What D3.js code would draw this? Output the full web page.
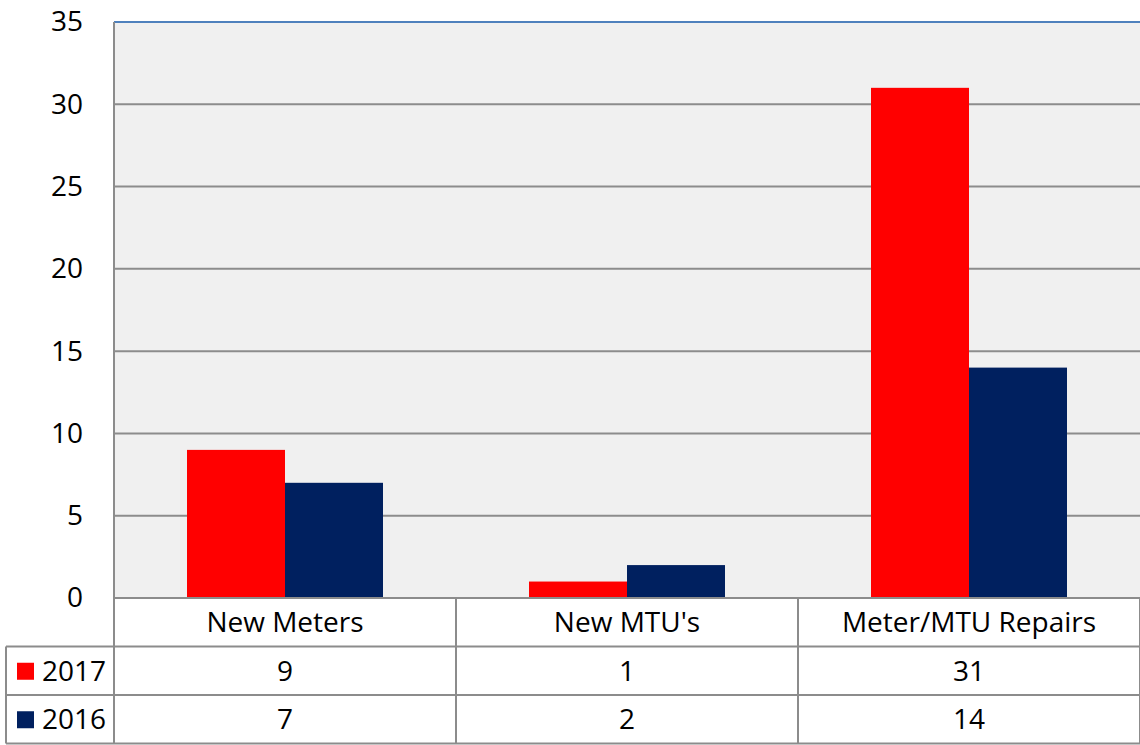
<!DOCTYPE html>
<html>
<head>
<meta charset="utf-8">
<script src="https://d3js.org/d3.v7.min.js"></script>
<style>
  body { margin: 0; background: #fff; }
  text { font-family: "Open Sans", "Liberation Sans", sans-serif; fill: #000; }
</style>
</head>
<body>
<div id="chart"></div>
<script>
// data
var categories = ["New Meters", "New MTU's", "Meter/MTU Repairs"];
var seriesNames = ["2017", "2016"];
var values2017 = [9, 1, 31];
var values2016 = [7, 2, 14];
var seriesColors = ["#ff0000", "#00205f"];
var yTicks = [0, 5, 10, 15, 20, 25, 30, 35];

var W = 1140, H = 745;
var plot = {left: 114, right: 1140, top: 22, bottom: 598};
var rowH = 48.5;
var tableLeft = 6;
var gridColor = "#8c8c8c";
var fontSize = "28px";

var svg = d3.select("#chart").append("svg")
  .attr("width", W).attr("height", H);

// plot background
svg.append("rect")
  .attr("x", plot.left).attr("y", plot.top)
  .attr("width", plot.right - plot.left).attr("height", plot.bottom - plot.top)
  .style("fill", "#f0f0f0");

var x0 = d3.scaleBand().domain(categories).range([plot.left, plot.right]).padding(0);
var x1 = d3.scaleBand().domain(seriesNames).range([0, x0.bandwidth()])
  .paddingInner(0).paddingOuter(0.745);
var y = d3.scaleLinear().domain([0, 35]).range([plot.bottom, plot.top]);

// gridlines
svg.append("g").selectAll("line")
  .data(yTicks.filter(function(d){ return d > 0 && d < 35; }))
  .enter().append("line")
    .attr("x1", plot.left).attr("x2", plot.right)
    .attr("y1", function(d){ return y(d); }).attr("y2", function(d){ return y(d); })
    .style("stroke", gridColor).style("stroke-width", 2);

// top line (blue)
svg.append("line")
  .attr("x1", plot.left).attr("x2", plot.right)
  .attr("y1", y(35)).attr("y2", y(35))
  .style("stroke", "#4f81bd").style("stroke-width", 2);

// bars
var series = [values2017, values2016];
var bars = [];
categories.forEach(function(c, i) {
  seriesNames.forEach(function(s, j) {
    bars.push({cat: c, name: s, value: series[j][i], color: seriesColors[j]});
  });
});
svg.append("g").selectAll("rect")
  .data(bars).enter().append("rect")
    .attr("x", function(d){ return x0(d.cat) + x1(d.name); })
    .attr("y", function(d){ return y(d.value); })
    .attr("width", x1.bandwidth())
    .attr("height", function(d){ return y(0) - y(d.value); })
    .style("fill", function(d){ return d.color; });

// y axis labels
var yAxis = d3.axisLeft(y).tickValues(yTicks).tickSize(0).tickPadding(31);
var gy = svg.append("g").attr("transform", "translate(" + plot.left + ",0)").call(yAxis);
gy.select(".domain").remove();
gy.selectAll("text").style("font-size", fontSize)
  .style("font-family", "'Open Sans', 'Liberation Sans', sans-serif").style("fill", "#000");

// data table
var t = svg.append("g");
var rowTops = [plot.bottom, plot.bottom + rowH, plot.bottom + 2 * rowH];
var tableBottom = plot.bottom + 3 * rowH;

// horizontal lines
t.append("line").attr("x1", plot.left).attr("x2", plot.right)
  .attr("y1", rowTops[0]).attr("y2", rowTops[0]);
[rowTops[1], rowTops[2], tableBottom].forEach(function(yy) {
  t.append("line").attr("x1", tableLeft).attr("x2", plot.right)
    .attr("y1", yy).attr("y2", yy);
});
// vertical lines
t.append("line").attr("x1", plot.left).attr("x2", plot.left)
  .attr("y1", plot.top).attr("y2", tableBottom);
t.append("line").attr("x1", tableLeft).attr("x2", tableLeft)
  .attr("y1", rowTops[1]).attr("y2", tableBottom);
categories.forEach(function(c) {
  var xx = x0(c) + x0.bandwidth();
  t.append("line").attr("x1", xx).attr("x2", xx)
    .attr("y1", rowTops[0]).attr("y2", tableBottom);
});
t.selectAll("line").style("stroke", gridColor).style("stroke-width", 2);

// category header
t.selectAll(".cat").data(categories).enter().append("text")
  .attr("x", function(d){ return x0(d) + x0.bandwidth() / 2; })
  .attr("y", rowTops[0] + rowH / 2)
  .attr("dy", "0.35em")
  .attr("text-anchor", "middle")
  .style("font-size", fontSize)
  .text(function(d){ return d; });

// series rows
series.forEach(function(vals, j) {
  var ry = rowTops[j + 1] + rowH / 2;
  t.append("rect")
    .attr("x", 17).attr("y", ry - 8)
    .attr("width", 17).attr("height", 17)
    .style("fill", seriesColors[j]);
  t.append("text")
    .attr("x", 42).attr("y", ry).attr("dy", "0.35em")
    .style("font-size", fontSize)
    .text(seriesNames[j]);
  t.selectAll(".v" + j).data(vals).enter().append("text")
    .attr("x", function(d, i){ return x0(categories[i]) + x0.bandwidth() / 2; })
    .attr("y", ry).attr("dy", "0.35em")
    .attr("text-anchor", "middle")
    .style("font-size", fontSize)
    .text(function(d){ return d; });
});
</script>
</body>
</html>
